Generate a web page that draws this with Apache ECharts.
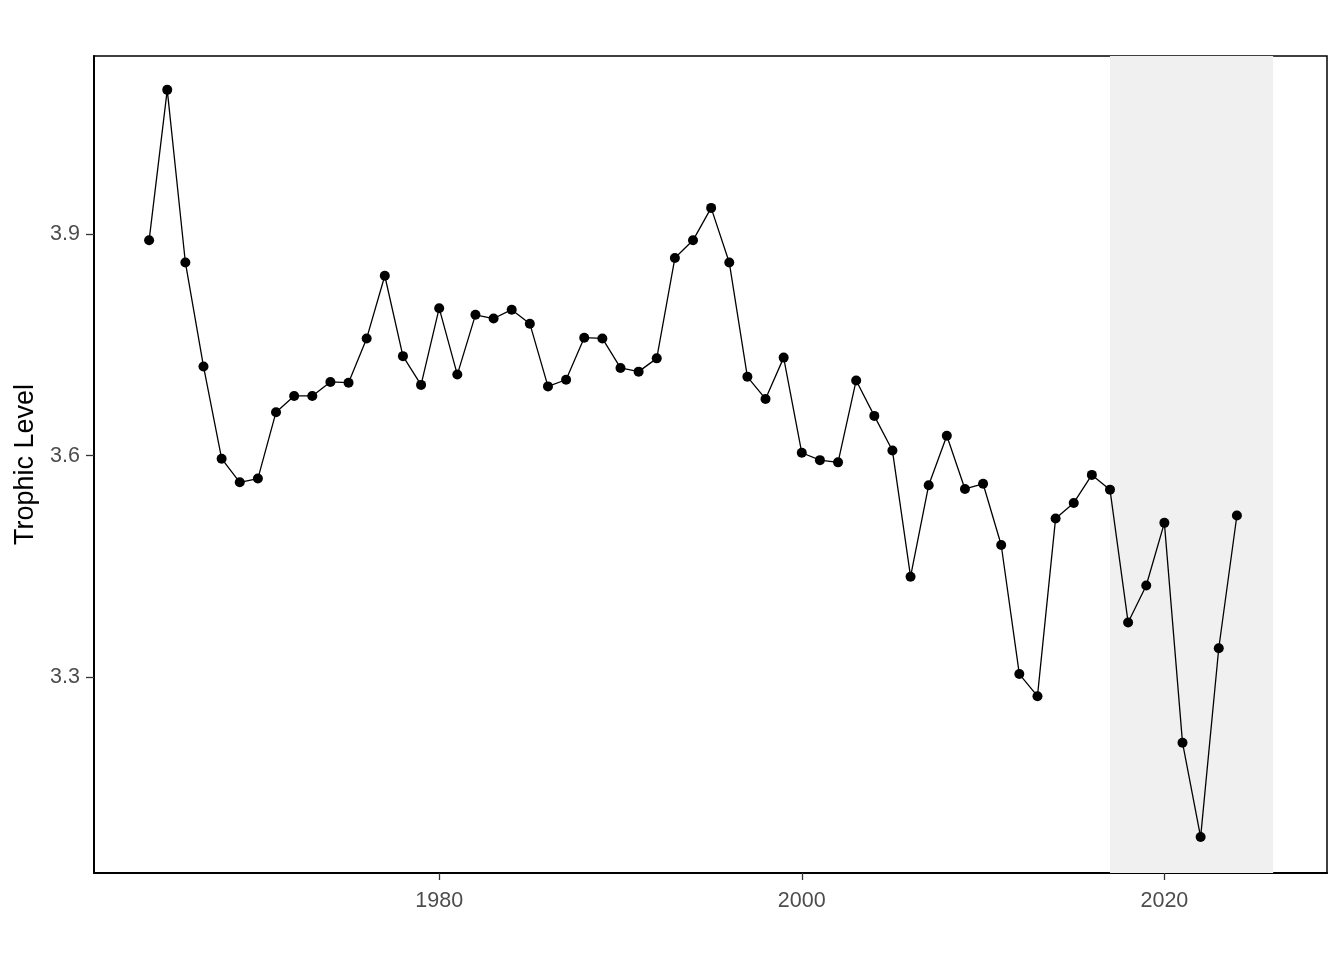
<!DOCTYPE html>
<html>
<head>
<meta charset="utf-8">
<style>
  html, body { margin: 0; padding: 0; background: #ffffff; }
  #chart { width: 1344px; height: 960px; }
</style>
<script src="https://cdn.jsdelivr.net/npm/echarts@6/dist/echarts.min.js"></script>
</head>
<body>
<div id="chart"></div>
<script>
const years = [1964, 1965, 1966, 1967, 1968, 1969, 1970, 1971, 1972, 1973,
  1974, 1975, 1976, 1977, 1978, 1979, 1980, 1981, 1982, 1983,
  1984, 1985, 1986, 1987, 1988, 1989, 1990, 1991, 1992, 1993,
  1994, 1995, 1996, 1997, 1998, 1999, 2000, 2001, 2002, 2003,
  2004, 2005, 2006, 2007, 2008, 2009, 2010, 2011, 2012, 2013,
  2014, 2015, 2016, 2017, 2018, 2019, 2020, 2021, 2022, 2023, 2024];
const trophicLevel = [3.892, 4.096, 3.862, 3.721, 3.596, 3.564, 3.569, 3.659, 3.681, 3.681,
  3.700, 3.699, 3.759, 3.844, 3.735, 3.696, 3.800, 3.710, 3.791, 3.786,
  3.798, 3.779, 3.694, 3.703, 3.760, 3.759, 3.719, 3.714, 3.732, 3.868,
  3.892, 3.936, 3.862, 3.707, 3.677, 3.733, 3.604, 3.594, 3.591, 3.702,
  3.654, 3.607, 3.436, 3.560, 3.627, 3.555, 3.562, 3.479, 3.304, 3.274,
  3.515, 3.536, 3.574, 3.554, 3.374, 3.424, 3.509, 3.211, 3.083, 3.339, 3.519];
const shadedPeriod = [2017, 2026];
const xTicks = [1980, 2000, 2020];
const yTicks = [3.3, 3.6, 3.9];
const yTitle = 'Trophic Level';

const seriesData = years.map((y, i) => [y, trophicLevel[i]]);
const fontFamily = "'Liberation Sans', Arial, sans-serif";

const chart = echarts.init(document.getElementById('chart'), null, { renderer: 'canvas' });
chart.setOption({
  animation: false,
  backgroundColor: '#ffffff',
  grid: {
    left: 94, top: 56, right: 17, bottom: 87,
    show: true, borderColor: '#000000', borderWidth: 1.5, backgroundColor: 'transparent'
  },
  xAxis: {
    type: 'value',
    min: 1960.96, max: 2028.97,
    splitLine: { show: false },
    axisLine: { show: true, onZero: false, lineStyle: { color: '#000000', width: 2 } },
    axisTick: { show: true, customValues: xTicks, length: 7, lineStyle: { color: '#333333', width: 1.3 } },
    axisLabel: {
      customValues: xTicks, margin: 17, color: '#4d4d4d', fontSize: 21.5, fontFamily: fontFamily,
      formatter: v => String(v)
    }
  },
  yAxis: {
    type: 'value',
    min: 3.0343, max: 4.1419,
    name: yTitle,
    nameLocation: 'middle',
    nameRotate: 90,
    nameGap: 47,
    nameTextStyle: { color: '#000000', fontSize: 27, fontFamily: fontFamily },
    splitLine: { show: false },
    axisLine: { show: true, onZero: false, lineStyle: { color: '#000000', width: 2 } },
    axisTick: { show: true, customValues: yTicks, length: 8, lineStyle: { color: '#333333', width: 1.3 } },
    axisLabel: {
      customValues: yTicks, margin: 14, color: '#4d4d4d', fontSize: 21.5, fontFamily: fontFamily,
      formatter: v => v.toFixed(1)
    }
  },
  series: [
    {
      type: 'line',
      data: [],
      z: 1,
      silent: true,
      markArea: {
        silent: true,
        itemStyle: { color: '#f0f0f0' },
        data: [[{ xAxis: shadedPeriod[0] }, { xAxis: shadedPeriod[1] }]]
      }
    },
    {
      type: 'line',
      data: seriesData,
      z: 3,
      symbol: 'circle',
      symbolSize: 10,
      showAllSymbol: true,
      itemStyle: { color: '#000000' },
      lineStyle: { color: '#000000', width: 1.3 }
    }
  ]
});
</script>
</body>
</html>
